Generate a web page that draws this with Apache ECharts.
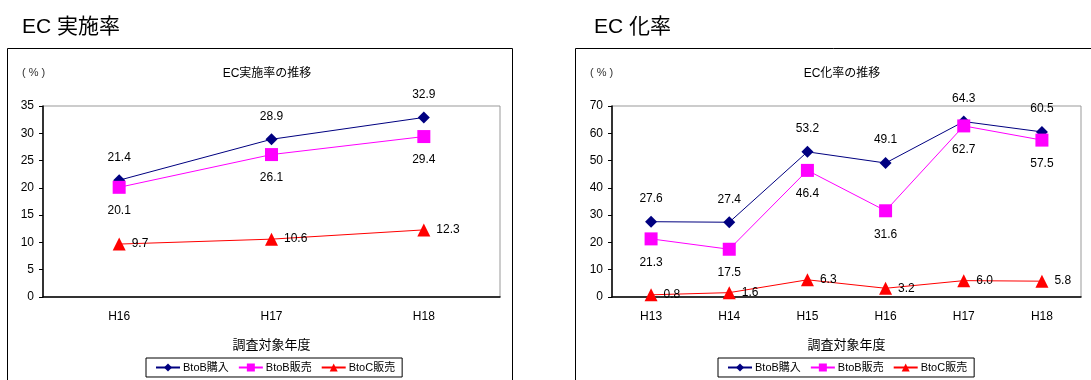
<!DOCTYPE html>
<html>
<head>
<meta charset="utf-8">
<script src="https://cdn.jsdelivr.net/npm/echarts@6/dist/echarts.min.js"></script>
<style>
  html, body { margin: 0; padding: 0; background: #fff; }
  #chart { width: 1091px; height: 380px; }
</style>
</head>
<body>
<div id="chart"></div>
<script>
// 左: EC実施率の推移
var years1 = ['H16', 'H17', 'H18'];
var buy1 = [21.4, 28.9, 32.9];
var sell1 = [20.1, 26.1, 29.4];
var btoc1 = [9.7, 10.6, 12.3];

// 右: EC化率の推移
var years2 = ['H13', 'H14', 'H15', 'H16', 'H17', 'H18'];
var buy2 = [27.6, 27.4, 53.2, 49.1, 64.3, 60.5];
var sell2 = [21.3, 17.5, 46.4, 31.6, 62.7, 57.5];
var btoc2 = [0.8, 1.6, 6.3, 3.2, 6.0, 5.8];

var names = ['BtoB購入', 'BtoB販売', 'BtoC販売'];

var FONT = '"Liberation Sans", "Noto Sans CJK JP", sans-serif';

function lineSeries(name, data, idx, color, symbol, size, pos) {
  return {
    name: name,
    type: 'line',
    xAxisIndex: idx,
    yAxisIndex: idx,
    data: data,
    symbol: symbol,
    symbolSize: size,
    lineStyle: { color: color, width: 1 },
    itemStyle: { color: color },
    label: {
      show: true,
      position: pos,
      distance: pos == 'right' ? 6 : 11,
      color: '#000',
      fontSize: 12,
      fontFamily: FONT,
      formatter: function (p) { return p.value.toFixed(1); }
    },
    animation: false
  };
}

function xAxis(idx, data) {
  return {
    type: 'category',
    gridIndex: idx,
    data: data,
    boundaryGap: true,
    axisLine: { lineStyle: { color: '#000', width: 1.5 } },
    axisTick: { inside: true, length: 5, lineStyle: { color: '#000' } },
    axisLabel: { color: '#000', fontSize: 12, fontFamily: FONT, margin: 14 },
    name: '調査対象年度',
    nameLocation: 'middle',
    nameGap: 42,
    nameTextStyle: { color: '#000', fontSize: 13, fontFamily: FONT }
  };
}

function yAxis(idx, max, interval) {
  return {
    type: 'value',
    gridIndex: idx,
    min: 0,
    max: max,
    interval: interval,
    axisLine: { show: true, lineStyle: { color: '#000', width: 1.5 } },
    axisTick: { show: true, length: 4, lineStyle: { color: '#000' } },
    axisLabel: { color: '#000', fontSize: 12, fontFamily: FONT, margin: 9 },
    splitLine: { show: false }
  };
}

function legend(left) {
  return {
    left: left,
    top: 358,
    data: names,
    orient: 'horizontal',
    borderColor: '#000',
    borderWidth: 1,
    padding: [4, 7, 4, 9],
    itemWidth: 24,
    itemHeight: 10,
    itemGap: 9,
    selectedMode: false,
    textStyle: { color: '#000', fontSize: 11, fontFamily: FONT, padding: [0, 0, 0, -2] }
  };
}

var option = {
  backgroundColor: '#fff',
  animation: false,
  title: [
    { text: 'EC 実施率', left: 17, top: 12, textStyle: { fontSize: 21, fontWeight: 'normal', color: '#000', fontFamily: FONT } },
    { text: 'EC 化率', left: 589, top: 12, textStyle: { fontSize: 21, fontWeight: 'normal', color: '#000', fontFamily: FONT } },
    { text: 'EC実施率の推移', left: 262, top: 63, textAlign: 'center', textStyle: { fontSize: 12, fontWeight: 'normal', color: '#000', fontFamily: FONT } },
    { text: 'EC化率の推移', left: 837, top: 63, textAlign: 'center', textStyle: { fontSize: 12, fontWeight: 'normal', color: '#000', fontFamily: FONT } },
    { text: '( % )', left: 17, top: 62, textStyle: { fontSize: 11, fontWeight: 'normal', color: '#333', fontFamily: FONT } },
    { text: '( % )', left: 585, top: 62, textStyle: { fontSize: 11, fontWeight: 'normal', color: '#333', fontFamily: FONT } }
  ],
  graphic: [
    { type: 'rect', shape: { x: 7.5, y: 48.5, width: 505, height: 360 }, style: { fill: 'none', stroke: '#000', lineWidth: 1 }, z: -1 },
    { type: 'rect', shape: { x: 575.5, y: 48.5, width: 530, height: 360 }, style: { fill: 'none', stroke: '#000', lineWidth: 1 }, z: -1 }
  ],
  legend: [legend(146), legend(718)],
  grid: [
    { left: 43, top: 106, width: 457, height: 191, show: true, borderColor: '#999', borderWidth: 1 },
    { left: 612, top: 106, width: 469, height: 191, show: true, borderColor: '#999', borderWidth: 1 }
  ],
  xAxis: [xAxis(0, years1), xAxis(1, years2)],
  yAxis: [yAxis(0, 35, 5), yAxis(1, 70, 10)],
  series: [
    lineSeries(names[0], buy1, 0, '#000080', 'diamond', 12, 'top'),
    lineSeries(names[1], sell1, 0, '#ff00ff', 'rect', 13, 'bottom'),
    lineSeries(names[2], btoc1, 0, '#ff0000', 'triangle', 13, 'right'),
    lineSeries(names[0], buy2, 1, '#000080', 'diamond', 12, 'top'),
    lineSeries(names[1], sell2, 1, '#ff00ff', 'rect', 13, 'bottom'),
    lineSeries(names[2], btoc2, 1, '#ff0000', 'triangle', 13, 'right')
  ]
};

var myChart = echarts.init(document.getElementById('chart'));
myChart.setOption(option);
</script>
</body>
</html>
